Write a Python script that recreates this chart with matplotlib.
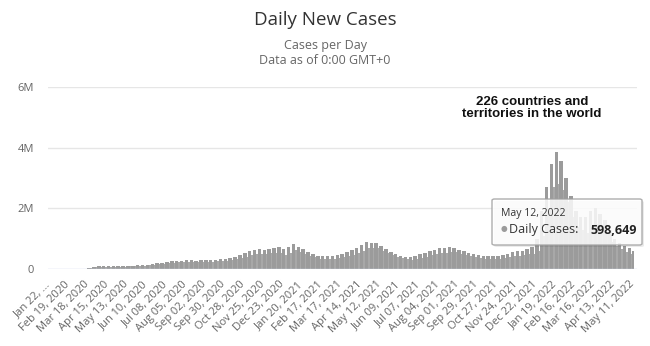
import matplotlib.pyplot as plt
from matplotlib.patches import FancyBboxPatch
import numpy as np

# weekly values (thousands of cases), week 0 starts Jan 22, 2020
# weekday level of each week
week_high = [
    1, 3, 3, 15, 2, 2, 4, 12, 30, 65,            # Jan - Mar 2020
    85, 90, 85, 88, 90, 95, 100, 110, 120, 130,  # Apr - Jun 2020
    140, 160, 185, 210, 230, 250, 280, 280, 285, 285,
    280, 285, 290, 300, 310, 315, 335, 365, 405, 455,
    515, 585, 640, 655, 640, 675, 700, 720, 650, 720,
    820, 730, 650, 560, 490, 430, 420, 440, 430, 460,
    510, 560, 610, 700, 790, 880, 870, 850, 760, 660,
    570, 500, 440, 400, 390, 420, 480, 540, 580, 630,
    680, 700, 720, 700, 640, 600, 540, 500, 460, 440,
    430, 430, 440, 470, 510, 560, 580, 600, 650, 720,
    1000, 1900, 2700, 3450, 3850, 3550, 3000, 2400, 1900, 1700,
    1700, 1900, 2000, 1800, 1600, 1300, 1000, 850, 750, 700,
    599,
]
# weekend dip of each week
week_low = [
    1, 2, 3, 5, 1, 2, 4, 10, 25, 55,
    70, 75, 72, 75, 75, 78, 85, 90, 100, 110,
    120, 130, 150, 180, 190, 210, 220, 220, 220, 220,
    220, 230, 230, 240, 250, 250, 270, 290, 320, 360,
    400, 470, 500, 500, 500, 520, 540, 540, 450, 520,
    620, 560, 500, 430, 380, 340, 320, 330, 330, 350,
    390, 430, 450, 520, 600, 700, 700, 680, 600, 520,
    450, 400, 350, 320, 310, 330, 360, 410, 450, 480,
    520, 540, 560, 550, 500, 470, 420, 390, 360, 340,
    330, 330, 340, 360, 390, 420, 430, 450, 480, 500,
    600, 1100, 1900, 2700, 2800, 2600, 2200, 1700, 1400, 1300,
    1200, 1400, 1500, 1400, 1200, 900, 750, 650, 550, 500,
]
n_days = 842  # Jan 22, 2020 .. May 12, 2022

tick_labels = [
    "Jan 22, ...", "Feb 19, 2020", "Mar 18, 2020", "Apr 15, 2020", "May 13, 2020",
    "Jun 10, 2020", "Jul 08, 2020", "Aug 05, 2020", "Sep 02, 2020", "Sep 30, 2020",
    "Oct 28, 2020", "Nov 25, 2020", "Dec 23, 2020", "Jan 20, 2021", "Feb 17, 2021",
    "Mar 17, 2021", "Apr 14, 2021", "May 12, 2021", "Jun 09, 2021", "Jul 07, 2021",
    "Aug 04, 2021", "Sep 01, 2021", "Sep 29, 2021", "Oct 27, 2021", "Nov 24, 2021",
    "Dec 22, 2021", "Jan 19, 2022", "Feb 16, 2022", "Mar 16, 2022", "Apr 13, 2022",
    "May 11, 2022",
]

plt.rcParams['font.family'] = ['Open Sans', 'DejaVu Sans']

W, H = 650, 346
fig = plt.figure(figsize=(W / 100, H / 100), dpi=100)
ax = fig.add_axes([48 / W, 77 / H, (637 - 48) / W, (269 - 87) / H])

starts = np.arange(len(week_high)) * 7
high = np.array(week_high) * 1000
low = np.array(week_low) * 1000
hw = np.minimum(5, n_days - starts)
bar_color = '#9b9b9b'
ax.bar(starts - 0.5, high, width=hw, align='edge', color=bar_color, lw=0, zorder=3)
ax.bar(starts[:len(low)] + 4.5, low, width=2, align='edge', color='#a8a8a8', lw=0, zorder=3)

ax.set_xlim(-1, 846)
ax.set_ylim(0, 6e6)
ax.set_yticks([0, 2e6, 4e6, 6e6])
ax.set_yticklabels(['0', '2M', '4M', '6M'])
ax.set_xticks(np.arange(len(tick_labels)) * 28)
ax.set_xticklabels(tick_labels, rotation=45, ha='right', va='center',
                   rotation_mode='anchor')
ax.tick_params(axis='both', length=0, labelsize=8, labelcolor='#666666')
ax.tick_params(axis='x', pad=10)
ax.tick_params(axis='y', pad=10)

for s in ax.spines.values():
    s.set_visible(False)
for v in [2e6, 4e6, 6e6]:
    ax.axhline(v, color='#e6e6e6', lw=1, zorder=1)
ax.axhline(0, color='#ccd6eb', lw=1, zorder=4)

# titles
fig.text(0.5, 1 - 20 / H, "Daily New Cases", ha='center', va='center',
         fontsize=13.5, color='#333333')
fig.text(0.5, 1 - 46 / H, "Cases per Day", ha='center', va='center',
         fontsize=9, color='#666666')
fig.text(0.5, 1 - 61 / H, "Data as of 0:00 GMT+0", ha='center', va='center',
         fontsize=9, color='#666666')

fig.text(532 / W, 1 - 108 / H, "226 countries and\nterritories in the world",
         ha='center', va='center', fontsize=9.5, fontweight='bold',
         family='Liberation Sans', color='#111111', linespacing=1.1)

# tooltip
shadow = FancyBboxPatch((494 / W, 1 - 247 / H), 150 / W, 46 / H,
                        boxstyle='round,pad=0,rounding_size=0.004',
                        transform=fig.transFigure, fc='#000000', alpha=0.08,
                        ec='none', zorder=9)
box = FancyBboxPatch((492 / W, 1 - 245 / H), 150 / W, 46 / H,
                     boxstyle='round,pad=0,rounding_size=0.004',
                     transform=fig.transFigure, fc='white', alpha=0.85,
                     ec='#a0a0a0', lw=1, zorder=10)
fig.patches.extend([shadow, box])
fig.text(501 / W, 1 - 213 / H, "May 12, 2022", ha='left', va='center',
         fontsize=7.5, color='#333333', zorder=11)
fig.text(501 / W, 1 - 230 / H, "\u25cf", ha='left', va='center',
         fontsize=5.5, color='#9b9b9b', zorder=11)
fig.text(509 / W, 1 - 230 / H, "Daily Cases:", ha='left', va='center',
         fontsize=9, color='#333333', zorder=11)
fig.text(637 / W, 1 - 230 / H, "598,649", ha='right', va='center',
         fontsize=9, color='#222222', fontweight='bold', zorder=11)

fig.savefig('out.png', dpi=100)
